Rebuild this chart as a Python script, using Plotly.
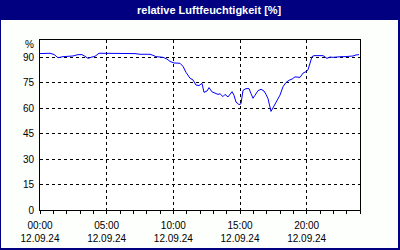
import plotly.graph_objects as go

title_text = "relative Luftfeuchtigkeit [%]"
hours = [0, 0.375, 0.75, 1.05, 1.35, 1.725, 2.1, 2.475, 2.85, 3.15, 3.375, 3.6, 3.9, 4.125,
         4.425, 4.875, 5.25, 5.625, 6.0, 6.375, 6.75, 7.125, 7.5, 7.875, 8.25, 8.475, 8.7,
         9.0, 9.225, 9.525, 9.75, 10.05, 10.5, 10.725, 10.95, 11.25, 11.475, 11.7, 11.925,
         12.15, 12.3, 12.525, 12.675, 12.9, 13.125, 13.35, 13.5, 13.725, 13.875, 14.1, 14.4,
         14.55, 14.7, 14.925, 15.075, 15.225, 15.45, 15.675, 15.825, 15.975, 16.125, 16.35,
         16.575, 16.8, 16.95, 17.1, 17.325, 17.475, 17.775, 18.0, 18.225, 18.45, 18.675,
         18.9, 19.125, 19.35, 19.5, 19.725, 19.95, 20.1, 20.25, 20.4, 20.55, 20.85, 21.075,
         21.225, 21.525, 21.75, 21.975, 22.275, 22.575, 22.875, 23.175, 23.475, 23.7, 23.925]
humidity = [92.0, 92.2, 92.2, 91.5, 89.6, 90.2, 90.4, 90.6, 91.4, 91.4, 90.4, 89.2, 90.0, 90.4,
             92.2, 92.2, 92.0, 91.8, 92.2, 92.0, 92.0, 92.0, 91.6, 91.6, 91.6, 91.0, 90.2,
             90.0, 89.8, 88.8, 87.4, 86.5, 86.3, 84.5, 81.0, 77.5, 76.5, 73.5, 73.2,
             74.5, 69.2, 70.0, 72.0, 69.5, 68.5, 68.0, 68.4, 66.7, 68.0, 66.5, 69.6,
             67.5, 63.5, 62.0, 62.5, 70.4, 71.4, 71.4, 68.5, 65.7, 67.5, 70.2,
             71.0, 70.0, 68.0, 65.5, 58.0, 60.2, 63.7, 67.6, 72.5, 75.0, 76.3,
             77.0, 78.3, 78.3, 78.0, 80.5, 81.4, 82.5, 86.3, 90.2, 90.8, 90.8, 90.4,
             90.8, 89.2, 90.0, 89.8, 90.2, 90.2, 90.2, 90.4, 90.6, 91.2, 91.4]
x_tickvals = [0, 5, 10, 15, 20]
x_ticktext = ["00:00<br>12.09.24", "05:00<br>12.09.24", "10:00<br>12.09.24",
              "15:00<br>12.09.24", "20:00<br>12.09.24"]
y_tickvals = [0, 15, 30, 45, 60, 75, 90]
y_unit = "%"

NAVY = "#000080"
FONT = "Liberation Sans"

fig = go.Figure()
fig.add_trace(go.Scatter(x=hours, y=humidity, mode="lines",
                         line=dict(color="#0000FF", width=1), hoverinfo="skip"))

# pixel -> paper helpers (plot area 40..360 x, 40..210 y)
def px(x):
    return (x - 40) / 320.0

def py(y):
    return (210 - y) / 170.0

shapes = [
    dict(type="rect", xref="paper", yref="paper", x0=px(0), x1=px(400), y0=py(20), y1=py(0),
         fillcolor=NAVY, line=dict(width=0), layer="above"),
    dict(type="rect", xref="paper", yref="paper", x0=px(0), x1=px(1), y0=py(250), y1=py(0),
         fillcolor=NAVY, line=dict(width=0), layer="above"),
    dict(type="rect", xref="paper", yref="paper", x0=px(398), x1=px(400), y0=py(250), y1=py(0),
         fillcolor=NAVY, line=dict(width=0), layer="above"),
    dict(type="rect", xref="paper", yref="paper", x0=px(0), x1=px(400), y0=py(250), y1=py(248),
         fillcolor=NAVY, line=dict(width=0), layer="above"),
]

fig.update_layout(
    width=400, height=250,
    margin=dict(l=40, r=40, t=40, b=40, autoexpand=False),
    paper_bgcolor="#FCFFFC", plot_bgcolor="#FFFFFF",
    showlegend=False,
    shapes=shapes,
    font=dict(family=FONT, size=10, color="#000000"),
    annotations=[
        dict(text="<b>" + title_text + "</b>", xref="paper", yref="paper",
             x=px(209), y=py(10), xanchor="center", yanchor="middle", showarrow=False,
             font=dict(family=FONT, size=11, color="#FFFFFF")),
        dict(text=y_unit, xref="paper", yref="paper", x=px(36), y=py(44.5),
             xanchor="right", yanchor="middle", showarrow=False,
             font=dict(family=FONT, size=10, color="#000000")),
    ],
)

fig.update_xaxes(range=[0, 24], tickvals=x_tickvals, ticktext=x_ticktext,
                 automargin=False,
                 showline=True, linecolor="black", linewidth=1, mirror=True,
                 ticks="outside", ticklen=3, tickcolor="black", tickwidth=1,
                 ticklabelstandoff=3,
                 minor=dict(dtick=1, ticks="outside", ticklen=3, tickcolor="black", showgrid=False),
                 showgrid=True, gridcolor="black", gridwidth=1, griddash="3px,3px",
                 zeroline=False, fixedrange=True)
fig.update_yaxes(range=[0, 100], tickvals=y_tickvals, automargin=False,
                 showline=True, linecolor="black", linewidth=1, mirror=True,
                 ticks="", ticklabelstandoff=3,
                 showgrid=True, gridcolor="black", gridwidth=1, griddash="3px,3px",
                 zeroline=False, fixedrange=True)

fig.write_html("out.html")
